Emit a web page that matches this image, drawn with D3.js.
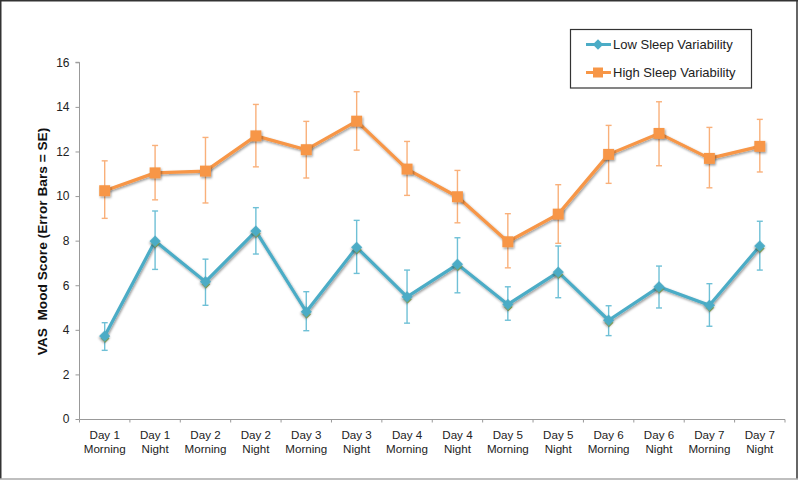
<!DOCTYPE html>
<html><head><meta charset="utf-8">
<script src="https://cdn.jsdelivr.net/npm/d3@7"></script>
<style>
html,body{margin:0;padding:0;background:#fff;}
svg{display:block;font-family:"Liberation Sans",Arial,sans-serif;}
</style></head>
<body><svg id="c" width="800" height="481"></svg>
<script>
const dayLabels = ["Day 1","Day 1","Day 2","Day 2","Day 3","Day 3","Day 4","Day 4","Day 5","Day 5","Day 6","Day 6","Day 7","Day 7"];
const timeLabels = ["Morning","Night","Morning","Night","Morning","Night","Morning","Night","Morning","Night","Morning","Night","Morning","Night"];
const categories = dayLabels.map((d,i)=>d+" "+timeLabels[i]);
const lowValues = [3.72,7.98,6.16,8.43,4.81,7.70,5.48,6.94,5.14,6.59,4.43,5.93,5.10,7.76];
const lowUpper  = [4.32,9.33,7.17,9.48,5.71,8.91,6.68,8.13,5.93,7.76,5.08,6.86,6.07,8.87];
const lowLower  = [3.08,6.71,5.10,7.40,3.96,6.53,4.30,5.66,4.43,5.44,3.74,4.98,4.16,6.68];
const highValues = [10.24,11.04,11.12,12.70,12.08,13.36,11.21,9.97,7.95,9.19,11.87,12.81,11.69,12.23];
const highUpper  = [11.58,12.27,12.63,14.11,13.35,14.68,12.45,11.15,9.21,10.51,13.17,14.23,13.08,13.44];
const highLower  = [9.00,9.83,9.69,11.31,10.81,12.06,10.03,8.80,6.78,7.88,10.57,11.36,10.37,11.08];
const yTicks = [0,2,4,6,8,10,12,14,16];
const seriesNames = ["Low Sleep Variability","High Sleep Variability"];

const svg = d3.select("#c");
// outer frame
svg.append("line").attr("x1",0).attr("x2",798).attr("y1",0.75).attr("y2",0.75).attr("stroke","#333").attr("stroke-width",1.5);
svg.append("line").attr("x1",0.75).attr("x2",0.75).attr("y1",0).attr("y2",479).attr("stroke","#333").attr("stroke-width",1.5);
svg.append("line").attr("x1",797).attr("x2",797).attr("y1",0).attr("y2",479).attr("stroke","#333").attr("stroke-width",1.5);
svg.append("line").attr("x1",0).attr("x2",798).attr("y1",479).attr("y2",479).attr("stroke","#aaa").attr("stroke-width",1.5);

const defs = svg.append("defs");
const f = defs.append("filter").attr("id","sh").attr("x","-50%").attr("y","-50%").attr("width","200%").attr("height","200%");
f.append("feDropShadow").attr("dx",1).attr("dy",1.5).attr("stdDeviation",1.2).attr("flood-color","#000").attr("flood-opacity",0.4);

const x = d3.scaleBand().domain(categories).range([79.5,785]).padding(0);
const y = d3.scaleLinear().domain([0,16]).range([419,62.3]);
const cx = c => x(c)+x.bandwidth()/2;

// y axis
const yAx = svg.append("g").attr("transform","translate(79.5,0)")
  .call(d3.axisLeft(y).tickValues(yTicks).tickSize(4).tickPadding(6).tickFormat(d3.format("d")));
yAx.select(".domain").attr("stroke","#999").attr("d","M-4,62.3H0V419");
yAx.selectAll(".tick line").attr("stroke","#999");
yAx.selectAll("text").attr("font-size",12).attr("fill","#222").attr("font-family","Liberation Sans, Arial, sans-serif");

// x axis
const xAx = svg.append("g").attr("transform","translate(0,419.5)")
  .call(d3.axisBottom(x).tickSize(0).tickFormat(""));
xAx.select(".domain").attr("stroke","#999").attr("d","M79.5,0H785");
const xt = [...categories.map(c=>x(c)), 785];
xAx.selectAll(".xt").data(xt).enter().append("line").attr("class","xt")
  .attr("x1",d=>d).attr("x2",d=>d).attr("y1",0).attr("y2",3).attr("stroke","#999");
const lbl = svg.append("g");
categories.forEach((c,i)=>{
  const t = lbl.append("text").attr("x",cx(c)).attr("text-anchor","middle").attr("font-size",11.6).attr("fill","#222");
  t.append("tspan").attr("x",cx(c)).attr("y",439).text(dayLabels[i]);
  t.append("tspan").attr("x",cx(c)).attr("y",452.5).text(timeLabels[i]);
});

// y label
svg.append("text").attr("transform","translate(47,241.5) rotate(-90)").attr("text-anchor","middle")
  .attr("font-size",13.7).attr("font-weight","bold").attr("fill","#111").attr("xml:space","preserve")
  .text("VAS  Mood Score (Error Bars = SE)");

const blue="#4bacc6", blueEb="#6fc0d6", orange="#f79646", orangeEb="#f9b07a";
const diamond = d3.symbol(d3.symbolSquare,62)();

function drawSeries(vals, up, lo, col, ebCol, shape){
  const g = svg.append("g");
  const data = categories.map((c,i)=>({c, v:vals[i], u:up[i], l:lo[i]}));
  const eb = g.append("g").attr("stroke",ebCol).attr("stroke-width",1.4).attr("fill","none");
  data.forEach(d=>{
    const X = cx(d.c);
    eb.append("line").attr("x1",X).attr("x2",X).attr("y1",y(d.u)).attr("y2",y(d.l));
    eb.append("line").attr("x1",X-3).attr("x2",X+3).attr("y1",y(d.u)).attr("y2",y(d.u));
    eb.append("line").attr("x1",X-3).attr("x2",X+3).attr("y1",y(d.l)).attr("y2",y(d.l));
  });
  const line = d3.line().x(d=>cx(d.c)).y(d=>y(d.v));
  g.append("path").datum(data).attr("d",line).attr("fill","none").attr("stroke",col).attr("stroke-width",3.2)
    .attr("stroke-linejoin","round").attr("filter","url(#sh)");
  if(shape==="diamond"){
    g.selectAll(".gm").data(data).enter().append("path")
      .attr("d",d3.symbol(d3.symbolSquare,36)()).attr("fill","#9bbb59")
      .attr("transform",d=>`translate(${cx(d.c)+0.5},${y(d.v)+2.5}) rotate(45)`);
  }
  g.selectAll(".m").data(data).enter().append("path")
    .attr("d", shape==="diamond" ? diamond : d3.symbol(d3.symbolSquare,120)())
    .attr("fill",col).attr("filter","url(#sh)")
    .attr("transform",d=>`translate(${cx(d.c)},${y(d.v)})` + (shape==="diamond"?" rotate(45)":""));
}
drawSeries(highValues, highUpper, highLower, orange, orangeEb, "square");
drawSeries(lowValues, lowUpper, lowLower, blue, blueEb, "diamond");

// legend
const lg = svg.append("g");
lg.append("rect").attr("x",570.5).attr("y",29.5).attr("width",181).attr("height",58.5)
  .attr("fill","#fff").attr("stroke","#333").attr("stroke-width",1.2);
const legRows = [{n:seriesNames[0],col:blue,shape:"diamond",y:44.5},{n:seriesNames[1],col:orange,shape:"square",y:72.5}];
legRows.forEach(r=>{
  lg.append("line").attr("x1",586).attr("x2",611).attr("y1",r.y).attr("y2",r.y).attr("stroke",r.col).attr("stroke-width",3);
  lg.append("path").attr("d", r.shape==="diamond"?d3.symbol(d3.symbolSquare,55)():d3.symbol(d3.symbolSquare,100)())
    .attr("fill",r.col).attr("transform",`translate(598,${r.y})`+(r.shape==="diamond"?" rotate(45)":""));
  lg.append("text").attr("x",613).attr("y",r.y+4.6).attr("font-size",13).attr("fill","#222").text(r.n);
});
</script></body></html>
